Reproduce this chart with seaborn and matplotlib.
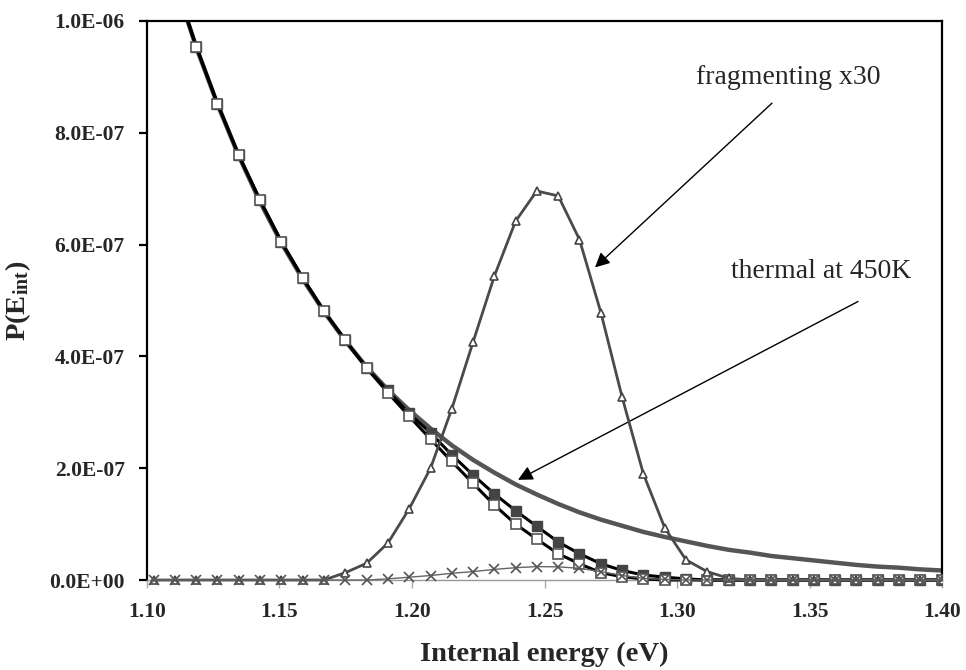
import matplotlib
matplotlib.use("Agg")
import matplotlib.pyplot as plt
import seaborn as sns
import pandas as pd
from matplotlib.patches import Rectangle
from matplotlib.ticker import FuncFormatter, FixedLocator

# ---------------- data (P values in units of 1e-7) ----------------
energy = [1.1025, 1.1105, 1.1186, 1.1266, 1.1346, 1.1427, 1.1507, 1.1588,
          1.1668, 1.1748, 1.1829, 1.1909, 1.1989, 1.2070, 1.2150, 1.2230,
          1.2311, 1.2391, 1.2471, 1.2552, 1.2632, 1.2713, 1.2793, 1.2873,
          1.2954, 1.3034, 1.3114, 1.3195, 1.3275, 1.3355, 1.3436, 1.3516,
          1.3596, 1.3677, 1.3757, 1.3838, 1.3918, 1.4000]

thermal_450K = [11.99, 10.70, 9.53, 8.51, 7.59, 6.76, 6.03, 5.38, 4.80, 4.28,
                3.81, 3.40, 3.04, 2.71, 2.41, 2.15, 1.92, 1.71, 1.53, 1.36,
                1.21, 1.08, 0.97, 0.86, 0.77, 0.69, 0.61, 0.54, 0.49, 0.43,
                0.39, 0.35, 0.31, 0.27, 0.24, 0.22, 0.19, 0.17]

filled_sq = [12.0, 10.7, 9.54, 8.52, 7.60, 6.79, 6.05, 5.40, 4.81, 4.29,
             3.79, 3.39, 2.98, 2.63, 2.24, 1.88, 1.54, 1.24, 0.96, 0.68,
             0.47, 0.29, 0.17, 0.09, 0.05, 0.02, 0, 0, 0, 0,
             0, 0, 0, 0, 0, 0, 0, 0]

open_sq = [12.0, 10.7, 9.54, 8.52, 7.60, 6.79, 6.05, 5.40, 4.81, 4.29,
           3.79, 3.35, 2.93, 2.52, 2.12, 1.73, 1.34, 1.00, 0.73, 0.47,
           0.29, 0.13, 0.06, 0.02, 0, 0, 0, 0, 0, 0,
           0, 0, 0, 0, 0, 0, 0, 0]

fragmenting_x30 = [0, 0, 0, 0, 0, 0, 0, 0, 0, 0.13,
                   0.30, 0.66, 1.27, 2.00, 3.06, 4.25, 5.44, 6.42, 6.96, 6.87,
                   6.09, 4.78, 3.27, 1.90, 0.93, 0.36, 0.15, 0.03, 0, 0,
                   0, 0, 0, 0, 0, 0, 0, 0]

fragmenting = [0, 0, 0, 0, 0, 0, 0, 0, 0, 0,
               0, 0.02, 0.05, 0.08, 0.12, 0.15, 0.19, 0.22, 0.24, 0.235,
               0.21, 0.15, 0.08, 0.03, 0.01, 0, 0, 0, 0, 0,
               0, 0, 0, 0, 0, 0, 0, 0]

x_ticks = [1.10, 1.15, 1.20, 1.25, 1.30, 1.35, 1.40]
y_ticks = [0.0, 2e-7, 4e-7, 6e-7, 8e-7, 1e-6]

scale = 1e-7
df = pd.DataFrame({
    "E": energy,
    "thermal": [v * scale for v in thermal_450K],
    "filled": [v * scale for v in filled_sq],
    "open": [v * scale for v in open_sq],
    "frag30": [v * scale for v in fragmenting_x30],
    "frag": [v * scale for v in fragmenting],
})

# ---------------- style ----------------
sns.set_style("white")
plt.rcParams["font.family"] = ["Liberation Serif", "DejaVu Serif"]
plt.rcParams["mathtext.fontset"] = "custom"
plt.rcParams["mathtext.rm"] = "Liberation Serif:bold"
plt.rcParams["mathtext.it"] = "Liberation Serif:bold"
plt.rcParams["mathtext.bf"] = "Liberation Serif:bold"

fig = plt.figure(figsize=(9.66, 6.70), dpi=100)
ax = fig.add_axes([147 / 966, 1 - 580 / 670, (942 - 147) / 966, (580 - 21) / 670])

sns.lineplot(data=df, x="E", y="thermal", ax=ax, color="#555555", lw=3.2,
             zorder=2, legend=False)
sns.lineplot(data=df, x="E", y="filled", ax=ax, color="black", lw=2.2,
             marker="s", markersize=7, markerfacecolor="#444444",
             markeredgecolor="#444444", markeredgewidth=1.0, zorder=3, legend=False)
sns.lineplot(data=df, x="E", y="open", ax=ax, color="black", lw=2.2,
             marker="s", markersize=7, markerfacecolor="white",
             markeredgecolor="#555555", markeredgewidth=1.2, zorder=4, legend=False)
sns.lineplot(data=df, x="E", y="frag30", ax=ax, color="#4a4a4a", lw=2.0,
             marker="^", markersize=6, markerfacecolor="white",
             markeredgecolor="#444444", markeredgewidth=1.2, zorder=5, legend=False)
sns.lineplot(data=df, x="E", y="frag", ax=ax, color="#666666", lw=1.0,
             marker="x", markersize=7, markeredgecolor="#555555",
             markeredgewidth=1.2, zorder=6, legend=False)

# allow markers sitting on the zero line to show below it
clip_rect = Rectangle((0, -0.03), 1, 1.03, transform=ax.transAxes)
for ln in ax.lines:
    ln.set_clip_path(clip_rect)

ax.set_xlim(1.10, 1.40)
ax.set_ylim(0, 1e-6)

ax.xaxis.set_major_locator(FixedLocator(x_ticks))
ax.yaxis.set_major_locator(FixedLocator(y_ticks))
ax.xaxis.set_major_formatter(FuncFormatter(lambda v, p: f"{v:.2f}"))
ax.yaxis.set_major_formatter(FuncFormatter(lambda v, p: f"{v:.1E}"))

for s in ["left", "top", "right"]:
    ax.spines[s].set_color("black")
    ax.spines[s].set_linewidth(1.6)
ax.spines["bottom"].set_color("#999999")
ax.spines["bottom"].set_linewidth(1.0)

ax.tick_params(axis="y", which="major", direction="out", length=6, width=1.6,
               color="black", labelsize=15.5, pad=10, left=True)
ax.tick_params(axis="x", which="major", direction="out", length=6, width=1.0,
               color="#aaaaaa", labelsize=15.5, pad=10, bottom=True)
for lab in ax.get_xticklabels() + ax.get_yticklabels():
    lab.set_fontweight("bold")

ax.set_xlabel("Internal energy (eV)", fontsize=20.5, fontweight="bold", labelpad=14)
ax.set_ylabel(r"P(E$_{\rm int}$)", fontsize=20.5, fontweight="bold", labelpad=12)


def to_data(px, py):
    return 1.10 + (px - 147) / 2650.0, (580 - py) / 558.0 * 1e-6


arrow = dict(arrowstyle="-|>", color="black", lw=1.0, mutation_scale=22,
             shrinkA=0, shrinkB=0)
ax.annotate("", xy=to_data(595, 268), xytext=to_data(772, 104),
            arrowprops=arrow, annotation_clip=False)
ax.text(*to_data(788, 78), "fragmenting x30", fontsize=20, ha="center",
        va="center")
ax.annotate("", xy=to_data(518, 480), xytext=to_data(858, 302),
            arrowprops=arrow, annotation_clip=False)
ax.text(*to_data(821, 272), "thermal at 450K", fontsize=20, ha="center",
        va="center")

fig.savefig("out.png", dpi=100)
